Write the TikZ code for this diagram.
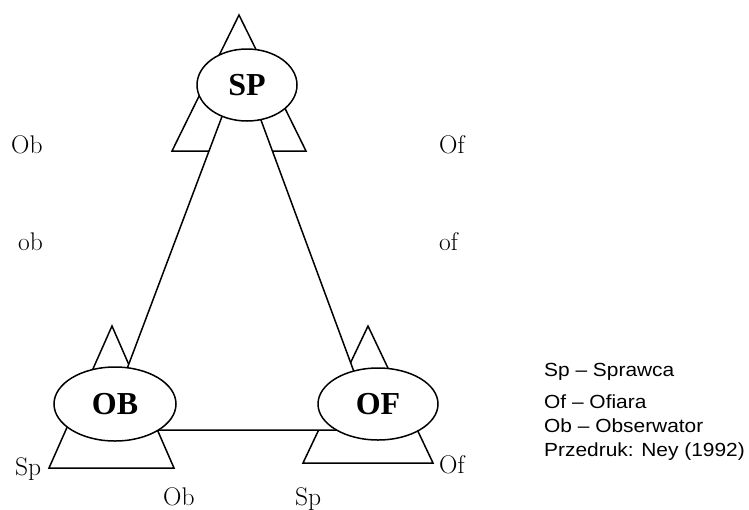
\documentclass[tikz,border=0pt]{standalone}
\usepackage{fontspec}
\usepackage{graphicx}
\usetikzlibrary{shapes.geometric}
\newfontfamily\labelbold{Liberation Serif}
\newfontfamily\legendfont{Liberation Sans}
\begin{document}
\begin{tikzpicture}[x=1pt,y=-1pt,
  outline/.style={line width=1.5pt,line join=miter},
  actor/.style={ellipse,draw,line width=1.5pt,fill=white,inner sep=0pt,
    font=\labelbold\bfseries\fontsize{32}{36}\selectfont},
  rolelabel/.style={anchor=base west,inner sep=0pt,font=\fontsize{25.5}{30}\selectfont,text=black},
  legendline/.style={anchor=base west,inner sep=0pt,font=\legendfont\fontsize{19}{22}\selectfont}]
  \useasboundingbox (0,0) rectangle (749,509);

  % small triangles behind each actor
  \draw[outline] (239,15) -- (172,151) -- (306,151) -- cycle;
  \draw[outline] (112,326) -- (49,468) -- (174,468) -- cycle;
  \draw[outline] (368,326) -- (303,463) -- (433,463) -- cycle;

  % corners of the relation triangle (hidden under the ellipses)
  \coordinate (tsp) at (241,66);
  \coordinate (tob) at (104,430);
  \coordinate (tof) at (375.5,430);
  \filldraw[outline,fill=white] (tsp) -- (tob) -- (tof) -- cycle;

  % actors
  \node[actor,minimum width=100pt,minimum height=72pt] (sp) at (247,85) {SP};
  \node[actor,minimum width=122pt,minimum height=74pt] (ob) at (115,404) {OB};
  \node[actor,minimum width=120pt,minimum height=72pt] (of) at (378,404) {OF};

  % role labels
  \node[rolelabel] (l1) at (11,153) {Ob};
  \node[rolelabel] (l2) at (439,153) {Of};
  \node[rolelabel] (l3) at (18,250) {ob};
  \node[rolelabel] (l4) at (439,250) {of};
  \node[rolelabel] (l5) at (15,475) {Sp};
  \node[rolelabel] (l6) at (163,505) {Ob};
  \node[rolelabel] (l7) at (439,473) {Of};
  \node[rolelabel] (l8) at (295,505) {Sp};

  % legend
  \node[legendline] (g1) at (544,376) {\scalebox{1.1}[1]{Sp – Sprawca}};
  \node[legendline] (g2) at (544,408) {\scalebox{1.1}[1]{Of – Ofiara}};
  \node[legendline] (g3) at (544,432) {\scalebox{1.1}[1]{Ob – Obserwator}};
  \node[legendline] (g4) at (544,456) {\scalebox{1.1}[1]{Przedruk: Ney (1992)}};
\end{tikzpicture}
\end{document}
